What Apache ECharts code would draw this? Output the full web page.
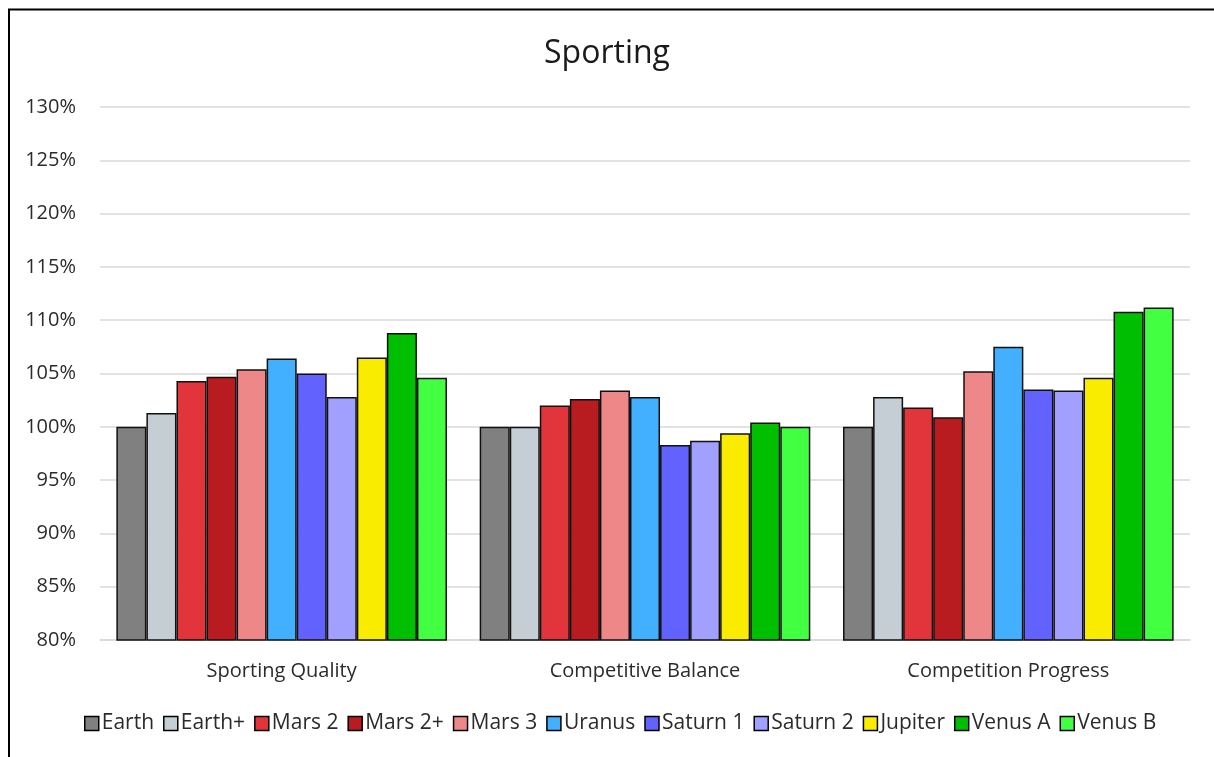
<!DOCTYPE html>
<html>
<head>
<meta charset="utf-8">
<title>Sporting</title>
<script src="https://cdn.jsdelivr.net/npm/echarts@6/dist/echarts.min.js"></script>
<style>
  html, body { margin: 0; padding: 0; background: #fff; }
  #chart { width: 1214px; height: 757px; }
</style>
</head>
<body>
<div id="chart"></div>
<script>
// Metric groups along the x axis
const categories = ['Sporting Quality', 'Competitive Balance', 'Competition Progress'];

// One array per scenario, values in percent
const earth    = [100.0, 100.0, 100.0];
const earthP   = [101.3, 100.0, 102.8];
const mars2    = [104.3, 102.0, 101.8];
const mars2P   = [104.7, 102.6, 100.9];
const mars3    = [105.4, 103.4, 105.2];
const uranus   = [106.4, 102.8, 107.5];
const saturn1  = [105.0,  98.3, 103.5];
const saturn2  = [102.8,  98.7, 103.4];
const jupiter  = [106.5,  99.4, 104.6];
const venusA   = [108.8, 100.4, 110.8];
const venusB   = [104.6, 100.0, 111.2];

// Y axis range and step (percent)
const yMin = 80, yMax = 130, yStep = 5;

const seriesDefs = [
  { name: 'Earth',    data: earth,   color: '#808080' },
  { name: 'Earth+',   data: earthP,  color: '#C5CED5' },
  { name: 'Mars 2',   data: mars2,   color: '#E1353B' },
  { name: 'Mars 2+',  data: mars2P,  color: '#B81B20' },
  { name: 'Mars 3',   data: mars3,   color: '#EE8787' },
  { name: 'Uranus',   data: uranus,  color: '#42B0FF' },
  { name: 'Saturn 1', data: saturn1, color: '#6262FF' },
  { name: 'Saturn 2', data: saturn2, color: '#A1A0FF' },
  { name: 'Jupiter',  data: jupiter, color: '#F9EC00' },
  { name: 'Venus A',  data: venusA,  color: '#00BF00' },
  { name: 'Venus B',  data: venusB,  color: '#42FF42' }
];

const font = '"Open Sans", Lato, sans-serif';
const chart = echarts.init(document.getElementById('chart'), null, { renderer: 'canvas' });

chart.setOption({
  backgroundColor: '#ffffff',
  animation: false,
  title: {
    text: 'Sporting',
    left: 'center',
    top: 33,
    textStyle: { fontFamily: font, fontSize: 32, fontWeight: 'normal', color: '#1a1a1a' }
  },
  graphic: [{
    type: 'rect',
    shape: { x: 9, y: 9.5, width: 1230, height: 780 },
    style: { fill: 'none', stroke: '#000', lineWidth: 2 },
    silent: true
  }],
  legend: {
    top: 708,
    left: 79,
    itemWidth: 14,
    itemHeight: 14,
    itemGap: 9,
    icon: 'rect',
    itemStyle: { borderColor: '#000', borderWidth: 1.5 },
    textStyle: { fontFamily: font, fontSize: 21, color: '#2b2b2b', padding: [0, 0, 0, -2] },
    data: seriesDefs.map(s => s.name)
  },
  grid: { left: 100, right: 24, top: 107, bottom: 117 },
  xAxis: {
    type: 'category',
    data: categories,
    axisLine: { show: true, lineStyle: { color: '#d9d9d9', width: 1.5 } },
    axisTick: { show: false },
    axisLabel: { fontFamily: font, fontSize: 20, color: '#2b2b2b', margin: 21 }
  },
  yAxis: {
    type: 'value',
    min: yMin,
    max: yMax,
    interval: yStep,
    axisLine: { show: false },
    axisTick: { show: false },
    splitLine: { lineStyle: { color: '#d9d9d9', width: 1.5 } },
    axisLabel: { fontFamily: font, fontSize: 20, color: '#2b2b2b', margin: 24, formatter: '{value}%' }
  },
  series: seriesDefs.map(s => ({
    name: s.name,
    type: 'bar',
    data: s.data,
    barGap: '0%',
    barCategoryGap: '9%',
    itemStyle: { color: s.color, borderColor: '#111', borderWidth: 1.5 }
  }))
});
</script>
</body>
</html>
